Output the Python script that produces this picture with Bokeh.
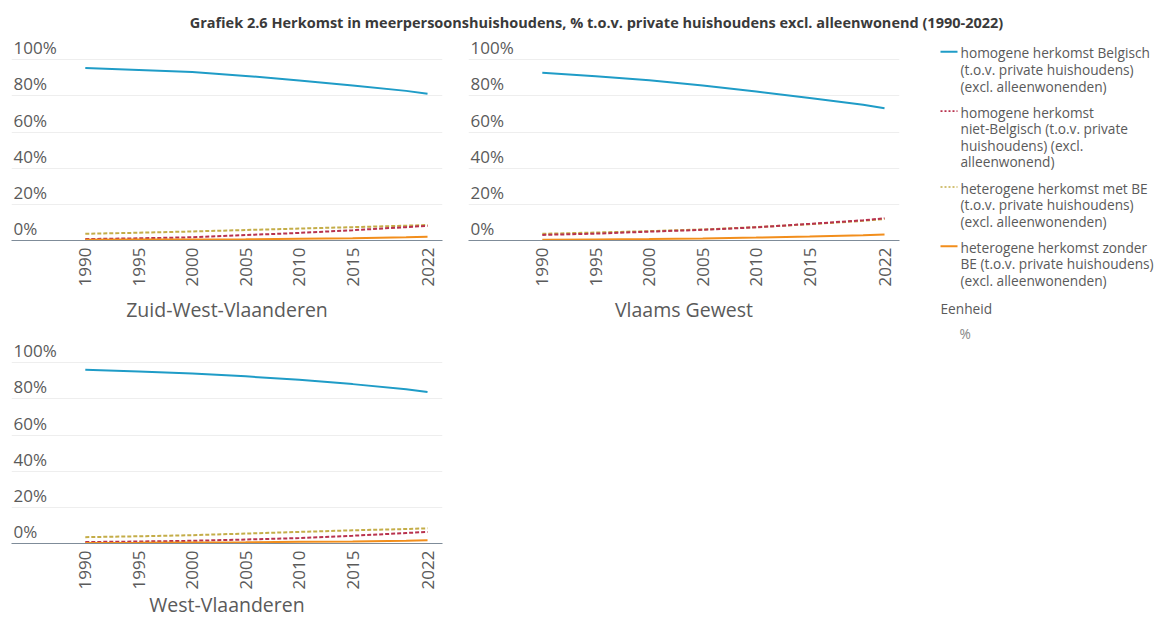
from math import pi
from bokeh.plotting import figure
from bokeh.layouts import column, row
from bokeh.models import Range1d, FixedTicker, Label, ColumnDataSource
from bokeh.core.properties import value
from bokeh.embed import file_html
from bokeh.resources import INLINE

# ---------------- data ----------------
title_text = ("Grafiek 2.6 Herkomst in meerpersoonshuishoudens, % t.o.v. private "
              "huishoudens excl. alleenwonend (1990-2022)")
years = [1990, 1995, 2000, 2005, 2010, 2015, 2020, 2022]
year_ticks = [1990, 1995, 2000, 2005, 2010, 2015, 2022]
pct_ticks = [0, 20, 40, 60, 80, 100]
pct_labels = ["0%", "20%", "40%", "60%", "80%", "100%"]

regions = ["Zuid-West-Vlaanderen", "Vlaams Gewest", "West-Vlaanderen"]

series_labels = [
    ["homogene herkomst Belgisch", "(t.o.v. private huishoudens)", "(excl. alleenwonenden)"],
    ["homogene herkomst", "niet-Belgisch (t.o.v. private", "huishoudens) (excl.", "alleenwonend)"],
    ["heterogene herkomst met BE", "(t.o.v. private huishoudens)", "(excl. alleenwonenden)"],
    ["heterogene herkomst zonder", "BE (t.o.v. private huishoudens)", "(excl. alleenwonenden)"],
]
unit_title = "Eenheid"
unit_value = "%"

# Zuid-West-Vlaanderen
zwv_hom_be = [95.4, 94.3, 93.2, 91.1, 88.5, 85.8, 82.8, 81.2]
zwv_hom_nbe = [0.8, 1.2, 1.8, 3.0, 4.2, 5.7, 7.4, 8.1]
zwv_het_be = [3.7, 4.3, 5.0, 5.8, 6.6, 7.4, 8.2, 8.6]
zwv_het_nbe = [0.4, 0.5, 0.6, 0.7, 0.9, 1.2, 1.8, 2.1]

# Vlaams Gewest
vg_hom_be = [92.8, 90.9, 88.7, 85.8, 82.5, 78.8, 75.1, 73.2]
vg_hom_nbe = [3.1, 3.8, 4.9, 5.9, 7.3, 9.2, 11.2, 12.3]
vg_het_be = [3.7, 4.4, 5.2, 6.1, 7.4, 9.0, 10.9, 11.9]
vg_het_nbe = [0.4, 0.6, 0.8, 1.1, 1.6, 2.2, 2.9, 3.3]

# West-Vlaanderen
wv_hom_be = [96.1, 95.2, 94.1, 92.5, 90.6, 88.2, 85.4, 83.8]
wv_hom_nbe = [0.8, 1.1, 1.5, 2.2, 3.0, 4.3, 5.8, 6.4]
wv_het_be = [3.5, 4.0, 4.6, 5.5, 6.4, 7.3, 8.0, 8.4]
wv_het_nbe = [0.3, 0.4, 0.6, 0.7, 0.9, 1.1, 1.5, 1.8]

region_data = [
    [zwv_hom_be, zwv_hom_nbe, zwv_het_be, zwv_het_nbe],
    [vg_hom_be, vg_hom_nbe, vg_het_be, vg_het_nbe],
    [wv_hom_be, wv_hom_nbe, wv_het_be, wv_het_nbe],
]

# ---------------- style ----------------
FONT = "Open Sans"
TXT = "#5a5a5a"
colors = ["#1f9cc7", "#b8324e", "#c4ad48", "#f28e1c"]
dashes = ["solid", "4 2", "4 2", "solid"]
legend_dashes = ["solid", "2 2", "2 2", "solid"]
legend_widths = [2, 1.6, 1.6, 2]
draw_order = [2, 1, 3, 0]

X_START, X_END = 1983.1, 2023.4
Y_END = 114.0
FRAME_W, FRAME_H = 431, 206


def panel(idx, left, right, top, bottom, label_standoff):
    p = figure(width=left + FRAME_W + right, height=top + FRAME_H + bottom,
               x_range=Range1d(X_START, X_END), y_range=Range1d(0, Y_END),
               output_backend="svg", toolbar_location=None, title=None,
               min_border_left=left, min_border_right=right,
               min_border_top=top, min_border_bottom=bottom)
    p.outline_line_color = None
    p.background_fill_color = "white"
    p.yaxis.visible = False
    p.xgrid.visible = False
    p.ygrid.ticker = FixedTicker(ticks=pct_ticks)
    p.ygrid.grid_line_color = "#eeeeee"
    ax = p.xaxis[0]
    ax.ticker = FixedTicker(ticks=year_ticks)
    ax.major_label_orientation = pi / 2
    ax.major_tick_line_color = None
    ax.minor_tick_line_color = None
    ax.major_tick_out = 0
    ax.major_label_standoff = 7
    ax.major_label_text_font = FONT
    ax.major_label_text_font_size = "17px"
    ax.major_label_text_color = TXT
    ax.axis_line_color = "#7f8c99"
    ax.axis_label = regions[idx]
    ax.axis_label_text_font = FONT
    ax.axis_label_text_font_size = "19.5px"
    ax.axis_label_text_font_style = "normal"
    ax.axis_label_text_color = TXT
    ax.axis_label_standoff = label_standoff

    src = ColumnDataSource(dict(x=[X_START] * len(pct_ticks), y=pct_ticks, t=pct_labels))
    p.text(x="x", y="y", text="t", source=src, x_offset=2, y_offset=-12,
           text_font=value(FONT), text_font_size="17px", text_color=TXT,
           text_baseline="middle", text_align="left")

    data = region_data[idx]
    for s in draw_order:
        p.line(years, data[s], line_color=colors[s], line_width=2,
               line_dash=dashes[s])
    return p


p1 = panel(0, left=11, right=13, top=0, bottom=90, label_standoff=7)
p2 = panel(1, left=13, right=10, top=0, bottom=90, label_standoff=7)
p3 = panel(2, left=11, right=13, top=7, bottom=78, label_standoff=-1)

# ---------------- title ----------------
TOTAL_W = p1.width + p2.width + 260
TITLE_H = 34
tfig = figure(width=TOTAL_W, height=TITLE_H, x_axis_type=None, y_axis_type=None,
              x_range=Range1d(0, 1), y_range=Range1d(0, 1),
              output_backend="svg", toolbar_location=None, title=None,
              min_border=0)
tfig.outline_line_color = None
tfig.grid.visible = False
tfig.add_layout(Label(x=596, y=12, x_units="screen", y_units="screen",
                      text=title_text, text_font=FONT, text_font_size="14.5px",
                      text_font_style="bold", text_color="#3a3a3a",
                      text_align="center", text_baseline="middle"))

# ---------------- legend ----------------
LW = TOTAL_W - p1.width - p2.width
LH = p1.height + p3.height
L_BOTTOM = 90  # row alignment gives the legend the same bottom border as p2
lfig = figure(width=LW, height=LH, x_axis_type=None, y_axis_type=None,
              x_range=Range1d(0, LW), y_range=Range1d(LH - L_BOTTOM, 0),
              output_backend="svg", toolbar_location=None, title=None,
              min_border=0, min_border_bottom=L_BOTTOM)
lfig.outline_line_color = None
lfig.grid.visible = False

TEXT_X, SAMPLE_X0, SAMPLE_X1 = 51, 31, 48
LINE_H, GAP = 16.6, 9.5
FS = "13.7px"
y = 52.3 - TITLE_H
for s, lines in enumerate(series_labels):
    lfig.line([SAMPLE_X0, SAMPLE_X1], [y - 1, y - 1], line_color=colors[s],
              line_width=legend_widths[s], line_dash=legend_dashes[s])
    ys = [y + i * LINE_H for i in range(len(lines))]
    lfig.text(x=[TEXT_X] * len(lines), y=ys, text=lines,
              text_font=value(FONT), text_font_size=FS, text_color=TXT,
              text_baseline="middle", text_align="left")
    y = ys[-1] + LINE_H + GAP
lfig.text(x=[31], y=[y + 2], text=[unit_title], text_font=value(FONT),
          text_font_size=FS, text_color=TXT, text_baseline="middle")
lfig.text(x=[50], y=[y + 27], text=[unit_value], text_font=value(FONT),
          text_font_size=FS, text_color="#888888", text_baseline="middle")

layout = column(tfig, row(column(p1, p3), p2, lfig))
open("out.html", "w").write(file_html(layout, INLINE))
